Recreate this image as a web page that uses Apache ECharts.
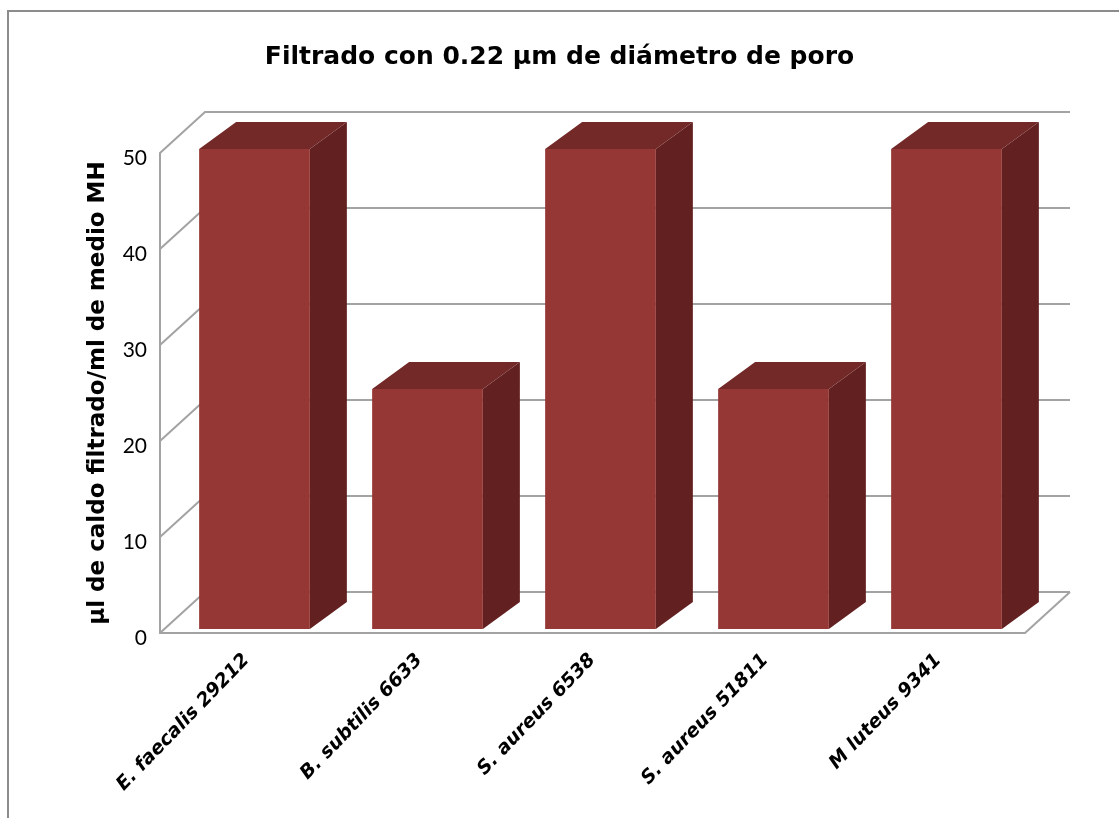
<!DOCTYPE html>
<html>
<head>
<meta charset="utf-8">
<script src="https://cdn.jsdelivr.net/npm/echarts@6/dist/echarts.min.js"></script>
<style>
  html, body { margin: 0; padding: 0; background: #fff; }
  #chart { width: 1119px; height: 818px; }
</style>
</head>
<body>
<div id="chart"></div>
<script>
// datos del gráfico
var cepas = ['E. faecalis 29212', 'B. subtilis 6633', 'S. aureus 6538', 'S. aureus 51811', 'M luteus 9341'];
var volumen = [50, 25, 50, 25, 50];
var yTicks = [0, 10, 20, 30, 40, 50];

// perspectiva (px)
var WALL_DX = 45, WALL_DY = -41;   // profundidad de las paredes
var BAR_DX = 37, BAR_DY = -27;     // profundidad de cada barra
var SHIFT_X = 8, SHIFT_Y = -4;     // barras algo detrás del plano frontal
var GRID_COLOR = '#a3a3a3';

var myChart = echarts.init(document.getElementById('chart'));

// paredes: líneas de la pared del fondo + diagonales de la pared izquierda
function renderWall(params, api) {
  var cs = params.coordSys;
  var v = api.value(0);
  var y = api.coord([0, v])[1];
  var left = cs.x, right = cs.x + cs.width;
  var children = [{
    type: 'polyline',
    shape: { points: [[left, y], [left + WALL_DX, y + WALL_DY], [right + WALL_DX, y + WALL_DY]] },
    style: { stroke: GRID_COLOR, lineWidth: 2, fill: null }
  }];
  if (v === 0) {
    children.push({
      type: 'line',
      shape: { x1: right, y1: y, x2: right + WALL_DX, y2: y + WALL_DY },
      style: { stroke: GRID_COLOR, lineWidth: 2 }
    });
  }
  return { type: 'group', children: children };
}

// barras 3D
function renderBar(params, api) {
  var i = api.value(0);
  var base = api.coord([i, 0]);
  var top = api.coord([i, api.value(1)]);
  var w = api.size([1, 0])[0] * 0.64;
  var x0 = base[0] + SHIFT_X - w / 2, x1 = x0 + w;
  var yb = base[1] + SHIFT_Y, yt = top[1] + SHIFT_Y;
  return {
    type: 'group',
    children: [{
      type: 'polygon',
      shape: { points: [[x1, yt], [x1 + BAR_DX, yt + BAR_DY], [x1 + BAR_DX, yb + BAR_DY], [x1, yb]] },
      style: { fill: '#632020' }
    }, {
      type: 'polygon',
      shape: { points: [[x0, yt], [x0 + BAR_DX, yt + BAR_DY], [x1 + BAR_DX, yt + BAR_DY], [x1, yt]] },
      style: { fill: '#722928' }
    }, {
      type: 'rect',
      shape: { x: x0, y: yt, width: w, height: yb - yt },
      style: { fill: '#953735' }
    }]
  };
}

var option = {
  backgroundColor: '#fff',
  animation: false,
  title: {
    text: 'Filtrado con 0.22 µm de diámetro de poro',
    left: 'center',
    top: 40,
    textStyle: { fontFamily: 'DejaVu Sans', fontWeight: 'bold', fontSize: 25, color: '#000' }
  },
  graphic: [{
    type: 'rect',
    shape: { x: 8, y: 11, width: 1300, height: 1000 },
    style: { fill: null, stroke: '#8c8c8c', lineWidth: 2 },
    silent: true
  }],
  grid: { left: 160, right: 94, top: 153, bottom: 185 },
  xAxis: {
    type: 'category',
    data: cepas,
    axisLine: { show: true, lineStyle: { color: GRID_COLOR, width: 2 } },
    axisTick: { show: false },
    axisLabel: {
      interval: 0,
      rotate: 46,
      margin: 24,
      fontFamily: 'DejaVu Sans',
      fontWeight: 'bold',
      fontStyle: 'italic',
      fontSize: 19,
      color: '#000'
    }
  },
  yAxis: {
    type: 'value',
    min: 0,
    max: 50,
    interval: 10,
    name: 'µl de caldo filtrado/ml de medio MH',
    nameLocation: 'middle',
    nameRotate: 90,
    nameGap: 50,
    nameTextStyle: { fontFamily: 'DejaVu Sans', fontWeight: 'bold', fontSize: 23, color: '#000' },
    axisLine: { show: true, lineStyle: { color: GRID_COLOR, width: 2 } },
    axisTick: { show: false },
    splitLine: { show: false },
    axisLabel: {
      margin: 13,
      formatter: '{n|{value}}',
      rich: { n: { fontFamily: 'Lato', fontSize: 21, color: '#000', padding: [10, 0, 0, 0] } }
    }
  },
  series: [{
    type: 'custom',
    renderItem: renderWall,
    data: yTicks.map(function (t) { return [t]; }),
    encode: { y: 0 },
    silent: true
  }, {
    type: 'custom',
    renderItem: renderBar,
    data: volumen.map(function (v, i) { return [i, v]; }),
    encode: { x: 0, y: 1 }
  }]
};

myChart.setOption(option);
</script>
</body>
</html>
